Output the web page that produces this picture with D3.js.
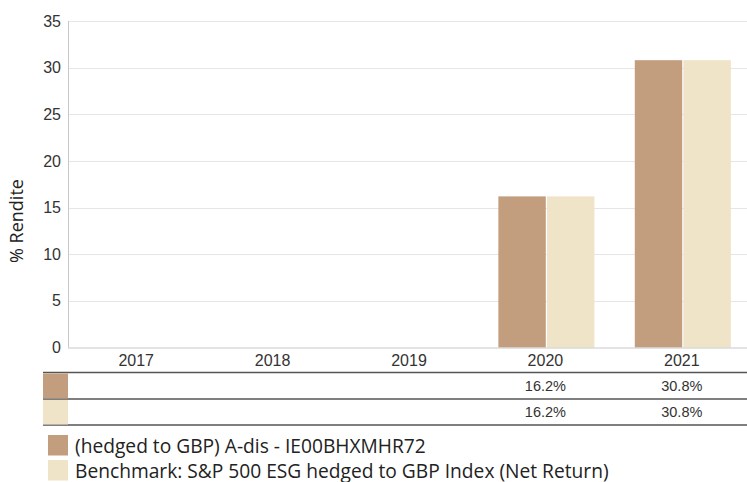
<!DOCTYPE html>
<html><head><meta charset="utf-8">
<script src="https://cdn.jsdelivr.net/npm/d3@7"></script>
<style>body{margin:0;background:#fff}svg{display:block}</style>
</head><body>
<script>
const categories = ["2017","2018","2019","2020","2021"];
const seriesNames = ["(hedged to GBP) A-dis - IE00BHXMHR72","Benchmark: S&P 500 ESG hedged to GBP Index (Net Return)"];
const fundValues = [null,null,null,16.2,30.8];
const benchValues = [null,null,null,16.2,30.8];
const yTicks = [0,5,10,15,20,25,30,35];
const colors = ["#C29E7E","#EFE3C8"];

(function(){
const W=747,H=482;
const svg=d3.select("body").append("svg").attr("width",W).attr("height",H);
const pL=68,pR=747,pT=21,pB=347.5;
const x=d3.scaleBand().domain(categories).range([pL,750]);
const xs=d3.scaleBand().domain([0,1]).range([0,x.bandwidth()]).paddingInner(0).paddingOuter(0.42);
const y=d3.scaleLinear().domain([0,35]).range([pB,pT]);

svg.append("g").selectAll("line").data(yTicks.filter(d=>d>0)).join("line")
 .attr("x1",pL).attr("x2",pR).attr("y1",d=>Math.round(y(d))+0.5).attr("y2",d=>Math.round(y(d))+0.5)
 .attr("stroke","#e6e6e6");
svg.append("g").selectAll("text").data(yTicks).join("text")
 .attr("x",pL-7).attr("y",d=>y(d)).attr("dy","0.35em").attr("text-anchor","end")
 .attr("font-family","Liberation Sans, Arial, sans-serif").attr("font-size",16).attr("fill","#333")
 .text(d=>d);
svg.append("text").attr("transform",`translate(23,221) rotate(-90)`)
 .attr("text-anchor","middle").attr("font-family","Open Sans, sans-serif").attr("font-size",18).attr("fill","#222")
 .text("% Rendite");

const series=[fundValues,benchValues];
series.forEach((vals,si)=>{
 svg.append("g").selectAll("rect").data(categories.map((c,i)=>({c,v:vals[i]})).filter(d=>d.v!=null)).join("rect")
  .attr("x",d=>x(d.c)+xs(si)+1+(si?0.6:0)).attr("width",xs.bandwidth()-0.6)
  .attr("y",d=>y(d.v)).attr("height",d=>y(0)-y(d.v)).attr("fill",colors[si]);
});
svg.append("line").attr("x1",pL+0.5).attr("x2",pL+0.5).attr("y1",pT).attr("y2",pB).attr("stroke","#c8c8c8");
svg.append("line").attr("x1",pL).attr("x2",pR).attr("y1",pB+0.5).attr("y2",pB+0.5).attr("stroke","#c8c8c8");
svg.append("g").selectAll("text").data(categories).join("text")
 .attr("x",d=>x(d)+x.bandwidth()/2).attr("y",360).attr("dy","0.35em").attr("text-anchor","middle")
 .attr("font-family","Liberation Sans, Arial, sans-serif").attr("font-size",16).attr("fill","#333").text(d=>d);

const rowY=[372.5,399,425];
rowY.forEach(ry=>svg.append("line").attr("x1",43).attr("x2",pR).attr("y1",ry).attr("y2",ry).attr("stroke","#555").attr("stroke-width",1.5));
series.forEach((vals,si)=>{
 svg.append("rect").attr("x",43).attr("y",rowY[si]+1).attr("width",25).attr("height",rowY[si+1]-rowY[si]-1.5).attr("fill",colors[si]);
 svg.append("g").selectAll("text").data(categories.map((c,i)=>({c,v:vals[i]})).filter(d=>d.v!=null)).join("text")
  .attr("x",d=>x(d.c)+x.bandwidth()/2).attr("y",(rowY[si]+rowY[si+1])/2).attr("dy","0.35em").attr("text-anchor","middle")
  .attr("font-family","Liberation Sans, Arial, sans-serif").attr("font-size",14.5).attr("fill","#333")
  .text(d=>d.v.toFixed(1)+"%");
});

seriesNames.forEach((n,i)=>{
 const ly=435+i*25;
 svg.append("rect").attr("x",48).attr("y",ly).attr("width",20).attr("height",20.5).attr("fill",colors[i]);
 svg.append("text").attr("x",75).attr("y",ly+17.5)
  .attr("font-family","Open Sans, sans-serif").attr("font-size",19.2).attr("fill","#222").text(n);
});
})();
</script>
</body></html>
